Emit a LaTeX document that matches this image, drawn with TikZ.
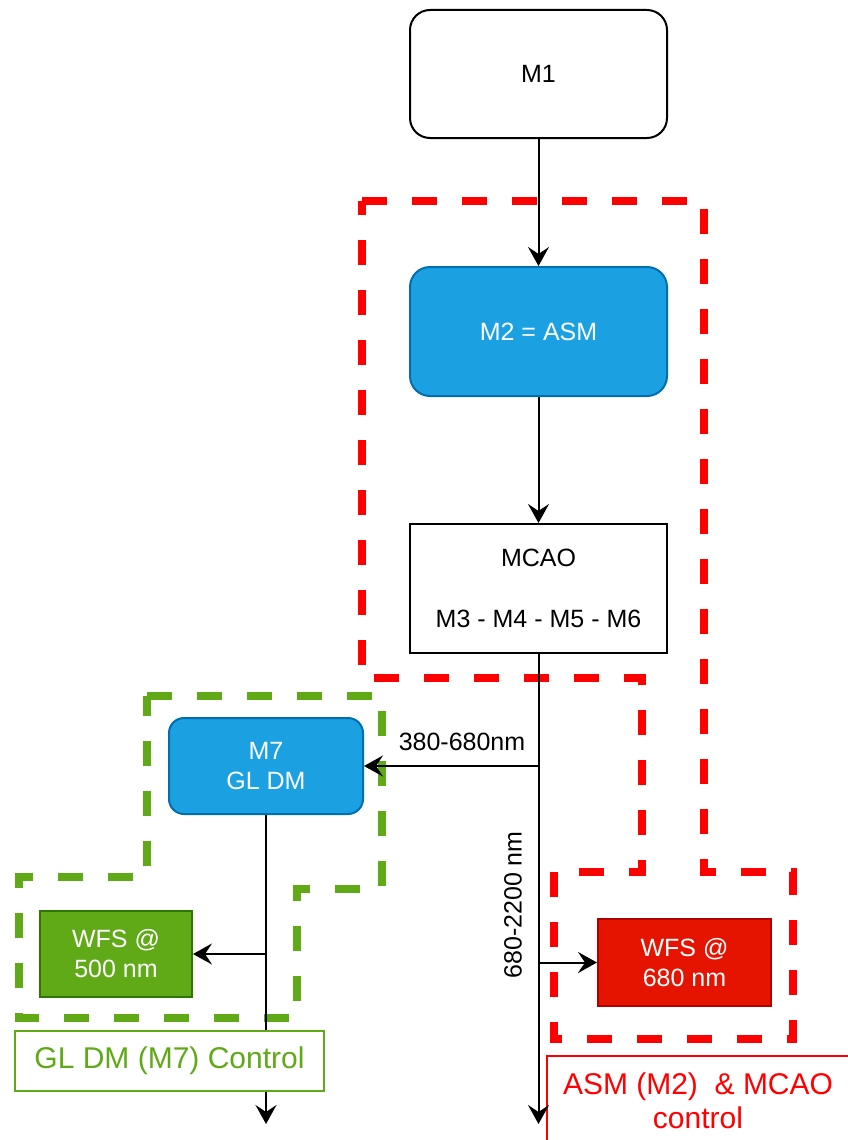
\documentclass[tikz,border=0pt]{standalone}
\usepackage{fontspec}
\setmainfont{Liberation Sans}
\usetikzlibrary{arrows.meta}
\definecolor{blueF}{HTML}{1BA1E2}
\definecolor{blueS}{HTML}{006EAF}
\definecolor{greenF}{HTML}{60A917}
\definecolor{greenS}{HTML}{2D7600}
\definecolor{redF}{HTML}{E51400}
\definecolor{redS}{HTML}{B20000}
\definecolor{redD}{HTML}{FF0000}
\definecolor{greenD}{HTML}{60A917}
\tikzset{
  base/.style={draw, line width=2pt, align=center, inner sep=0pt, font=\fontsize{25}{30}\selectfont},
  whitebox/.style={base, fill=white, draw=black},
  bluebox/.style={base, fill=blueF, draw=blueS, text=white},
  greenbox/.style={base, fill=greenF, draw=greenS, text=white},
  redbox/.style={base, fill=redF, draw=redS, text=white},
  ctrlbox/.style={draw, line width=2pt, fill=white, align=center, inner sep=0pt, font=\fontsize{30}{34}\selectfont},
  conn/.style={line width=2pt, draw=black, -{Stealth[length=19pt,width=21pt,inset=7pt]}},
  plain/.style={line width=2pt, draw=black},
  zone/.style={line width=8pt, dash pattern=on 25pt off 25pt},
  lbl/.style={font=\fontsize{25}{30}\selectfont, inner sep=0pt}
}
\begin{document}
\begin{tikzpicture}[x=1pt,y=-1pt]
\useasboundingbox (0,0) rectangle (847,1140);
% dashed zones
\draw[zone, draw=redD] (362,201) -- (704,201) -- (704,872) -- (793,872) -- (793,1039) -- (554,1039) -- (554,872) -- (642,872) -- (642,678) -- (362,678) -- cycle;
\draw[zone, draw=greenD] (147,696) -- (382,696) -- (382,889) -- (297,889) -- (297,1018) -- (19,1018) -- (19,877) -- (147,877) -- cycle;
% nodes
\node[whitebox, rounded corners=20pt, minimum width=257pt, minimum height=128pt] (m1) at (538.5,74) {M1};
\node[bluebox, rounded corners=20pt, minimum width=257pt, minimum height=129pt] (m2) at (538.5,331.5) {M2 = ASM};
\node[whitebox, minimum width=257pt, minimum height=129pt] (mcao) at (538.5,588.5) {MCAO\\[31pt]M3 - M4 - M5 - M6};
\node[bluebox, rounded corners=15pt, minimum width=194pt, minimum height=96pt] (m7) at (266,766) {M7\\GL DM};
\node[greenbox, minimum width=152pt, minimum height=86pt] (w500) at (116,954) {WFS @\\500 nm};
\node[redbox, minimum width=173pt, minimum height=87pt] (w680) at (684.5,962.5) {WFS @\\680 nm};
\node[ctrlbox, draw=greenF, text=greenF, minimum width=309pt, minimum height=60pt] (glc) at (169.5,1061) {GL DM (M7) Control};
\node[ctrlbox, draw=redD, text=redD, minimum width=302pt, minimum height=90pt] (asmc) at (698,1101) {ASM (M2)\ \ \& MCAO\\control};
% coordinates
\coordinate (b1) at (538.5,766);
\coordinate (b2) at (538.5,962.5);
\coordinate (e1) at (538.5,1124);
\coordinate (b3) at (266,954);
\coordinate (e2) at (266,1124);
% connectors
\draw[conn] (m1) -- (m2);
\draw[conn] (m2) -- (mcao);
\draw[conn] (mcao.south) -- (e1);
\draw[conn] (b1) -- (m7.east);
\draw[conn] (b2) -- (w680.west);
\draw[plain] (m7.south) -- (glc.north -| m7.south);
\draw[conn] (glc.south -| m7.south) -- (e2);
\draw[conn] (b3) -- (w500.east);
% labels
\node[lbl] (l1) at (462,742) {380-680nm};
\node[lbl, rotate=90] (l2) at (513,905) {680-2200 nm};
\end{tikzpicture}
\end{document}
